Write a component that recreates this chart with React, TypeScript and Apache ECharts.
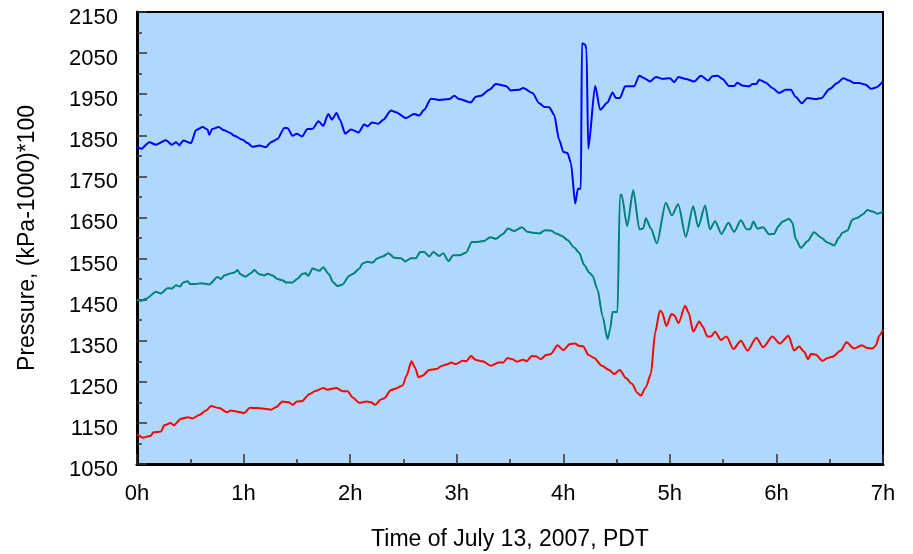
import React, { useEffect, useRef } from "react";
import * as echarts from "echarts";

// [hours, pressure] samples
const bluePressure: [number, number][] = [
  [0, 1823], [0.04, 1817], [0.115, 1833], [0.178, 1827], [0.272, 1838], [0.328, 1827], [0.366, 1833], [0.397, 1826],
  [0.434, 1837], [0.507, 1831], [0.553, 1862], [0.615, 1870], [0.662, 1864], [0.678, 1851], [0.704, 1865], [0.765, 1870],
  [0.819, 1862], [0.866, 1857], [0.913, 1849], [0.991, 1839], [1.038, 1831], [1.084, 1822], [1.147, 1825], [1.21, 1821],
  [1.257, 1833], [1.319, 1841], [1.382, 1868], [1.413, 1867], [1.46, 1849], [1.501, 1854], [1.548, 1847], [1.6, 1865],
  [1.647, 1866], [1.704, 1884], [1.748, 1873], [1.795, 1902], [1.829, 1888], [1.872, 1904], [1.904, 1888], [1.954, 1854],
  [2.008, 1864], [2.079, 1857], [2.132, 1876], [2.163, 1872], [2.205, 1881], [2.266, 1878], [2.311, 1888], [2.383, 1910],
  [2.43, 1906], [2.523, 1892], [2.601, 1902], [2.648, 1898], [2.695, 1912], [2.758, 1939], [2.836, 1936], [2.93, 1938],
  [2.977, 1946], [3.024, 1938], [3.133, 1930], [3.18, 1944], [3.227, 1946], [3.305, 1961], [3.368, 1975], [3.462, 1970],
  [3.508, 1959], [3.586, 1961], [3.624, 1965], [3.711, 1953], [3.774, 1928], [3.821, 1919], [3.868, 1918], [3.914, 1900],
  [3.961, 1839], [4.002, 1809], [4.039, 1807], [4.071, 1783], [4.112, 1684], [4.137, 1720], [4.165, 1720], [4.175, 2074],
  [4.205, 2071], [4.218, 2058], [4.234, 1817], [4.299, 1970], [4.346, 1912], [4.415, 1930], [4.462, 1954], [4.493, 1941],
  [4.531, 1941], [4.581, 1969], [4.665, 1969], [4.712, 1995], [4.759, 1989], [4.812, 1981], [4.869, 1992], [4.931, 1987],
  [5.0, 1989], [5.04, 1979], [5.081, 1992], [5.15, 1987], [5.228, 1981], [5.291, 1995], [5.362, 1983], [5.394, 1993],
  [5.447, 1995], [5.494, 1987], [5.556, 1970], [5.603, 1970], [5.634, 1978], [5.681, 1971], [5.744, 1969], [5.775, 1975],
  [5.812, 1975], [5.838, 1985], [5.901, 1978], [5.962, 1965], [6.025, 1953], [6.088, 1961], [6.135, 1961], [6.182, 1943],
  [6.238, 1928], [6.291, 1941], [6.37, 1938], [6.426, 1941], [6.494, 1962], [6.572, 1977], [6.626, 1989], [6.682, 1983],
  [6.729, 1977], [6.776, 1977], [6.839, 1973], [6.886, 1963], [6.933, 1966], [7.0, 1981],
];

const tealPressure: [number, number][] = [
  [0, 1449], [0.04, 1447], [0.09, 1453], [0.178, 1469], [0.225, 1465], [0.287, 1478], [0.328, 1477], [0.366, 1485],
  [0.403, 1482], [0.434, 1492], [0.475, 1495], [0.497, 1488], [0.553, 1488], [0.6, 1490], [0.678, 1487], [0.756, 1505],
  [0.788, 1500], [0.819, 1509], [0.866, 1513], [0.913, 1516], [0.944, 1522], [0.969, 1512], [1.016, 1506], [1.069, 1514],
  [1.1, 1522], [1.147, 1512], [1.194, 1509], [1.225, 1513], [1.272, 1509], [1.319, 1500], [1.366, 1497], [1.398, 1492],
  [1.46, 1492], [1.507, 1501], [1.553, 1513], [1.585, 1514], [1.607, 1508], [1.647, 1526], [1.71, 1520], [1.748, 1529],
  [1.797, 1513], [1.842, 1492], [1.882, 1483], [1.929, 1487], [1.992, 1508], [2.029, 1513], [2.085, 1525], [2.116, 1538],
  [2.163, 1542], [2.21, 1540], [2.257, 1551], [2.304, 1555], [2.36, 1563], [2.414, 1552], [2.477, 1551], [2.517, 1543],
  [2.571, 1551], [2.617, 1551], [2.658, 1566], [2.695, 1566], [2.742, 1555], [2.78, 1566], [2.836, 1556], [2.873, 1563],
  [2.923, 1544], [2.967, 1558], [3.024, 1558], [3.086, 1564], [3.143, 1590], [3.211, 1591], [3.258, 1593], [3.315, 1602],
  [3.368, 1598], [3.43, 1609], [3.483, 1623], [3.539, 1617], [3.612, 1626], [3.664, 1615], [3.711, 1613], [3.774, 1611],
  [3.83, 1619], [3.884, 1618], [3.931, 1611], [3.987, 1605], [4.039, 1595], [4.102, 1577], [4.149, 1564], [4.196, 1534],
  [4.243, 1516], [4.274, 1508], [4.321, 1475], [4.368, 1410], [4.415, 1354], [4.44, 1378], [4.462, 1420], [4.509, 1420],
  [4.531, 1703], [4.546, 1706], [4.6, 1629], [4.656, 1716], [4.715, 1621], [4.75, 1623], [4.775, 1648], [4.822, 1623],
  [4.878, 1587], [4.962, 1686], [5.019, 1655], [5.078, 1682], [5.15, 1603], [5.219, 1677], [5.266, 1627], [5.331, 1679],
  [5.375, 1621], [5.425, 1641], [5.484, 1610], [5.55, 1637], [5.603, 1615], [5.666, 1643], [5.722, 1621], [5.753, 1621],
  [5.784, 1640], [5.822, 1623], [5.875, 1626], [5.931, 1609], [5.978, 1610], [6.019, 1629], [6.057, 1640], [6.119, 1647],
  [6.15, 1637], [6.182, 1597], [6.229, 1576], [6.291, 1592], [6.354, 1614], [6.417, 1601], [6.479, 1589], [6.541, 1582],
  [6.588, 1601], [6.619, 1613], [6.666, 1618], [6.713, 1645], [6.76, 1649], [6.807, 1657], [6.854, 1668], [6.907, 1664],
  [6.948, 1659], [7.0, 1664],
];

const redPressure: [number, number][] = [
  [0, 1122], [0.059, 1114], [0.131, 1119], [0.153, 1127], [0.225, 1129], [0.256, 1144], [0.319, 1150], [0.344, 1144],
  [0.413, 1160], [0.475, 1164], [0.522, 1161], [0.584, 1169], [0.647, 1180], [0.694, 1191], [0.772, 1186], [0.844, 1176],
  [0.882, 1180], [0.929, 1178], [1.006, 1174], [1.06, 1187], [1.131, 1186], [1.21, 1184], [1.257, 1182], [1.304, 1188],
  [1.366, 1202], [1.422, 1200], [1.46, 1194], [1.501, 1202], [1.548, 1203], [1.616, 1220], [1.679, 1228], [1.748, 1235],
  [1.788, 1231], [1.872, 1235], [1.929, 1227], [1.976, 1227], [2.023, 1212], [2.085, 1199], [2.154, 1202], [2.195, 1200],
  [2.236, 1194], [2.289, 1207], [2.32, 1210], [2.383, 1230], [2.43, 1234], [2.492, 1241], [2.529, 1265], [2.576, 1300],
  [2.608, 1285], [2.642, 1261], [2.679, 1265], [2.742, 1279], [2.811, 1281], [2.852, 1288], [2.914, 1293], [2.946, 1297],
  [2.992, 1293], [3.055, 1301], [3.092, 1300], [3.133, 1313], [3.18, 1303], [3.242, 1300], [3.321, 1289], [3.392, 1297],
  [3.436, 1297], [3.477, 1308], [3.523, 1305], [3.565, 1299], [3.624, 1304], [3.655, 1300], [3.705, 1313], [3.743, 1312],
  [3.79, 1305], [3.837, 1315], [3.884, 1318], [3.946, 1339], [3.999, 1327], [4.062, 1342], [4.112, 1343], [4.143, 1338],
  [4.187, 1336], [4.237, 1315], [4.29, 1308], [4.362, 1289], [4.43, 1279], [4.478, 1269], [4.531, 1279], [4.587, 1259],
  [4.644, 1245], [4.696, 1223], [4.728, 1216], [4.775, 1237], [4.822, 1269], [4.862, 1370], [4.906, 1423], [4.925, 1420],
  [4.968, 1386], [5.015, 1415], [5.041, 1412], [5.081, 1393], [5.144, 1435], [5.175, 1419], [5.219, 1372], [5.276, 1397],
  [5.306, 1385], [5.353, 1360], [5.385, 1360], [5.425, 1372], [5.478, 1352], [5.531, 1360], [5.597, 1330], [5.666, 1350],
  [5.728, 1326], [5.812, 1357], [5.875, 1334], [5.962, 1360], [6.032, 1343], [6.113, 1362], [6.166, 1326], [6.213, 1336],
  [6.26, 1323], [6.298, 1305], [6.323, 1318], [6.37, 1316], [6.432, 1301], [6.479, 1308], [6.525, 1311], [6.604, 1326],
  [6.657, 1346], [6.729, 1331], [6.801, 1339], [6.854, 1332], [6.9, 1331], [6.933, 1338], [6.964, 1362], [7.0, 1377],
];

const yMin = 1050;
const yMax = 2150;
const yStep = 100;
const xMin = 0;
const xMax = 7;
const xTitle = "Time of July 13, 2007, PDT";
const yTitle = "Pressure, (kPa-1000)*100";

const FONT = "Liberation Sans, Arial, sans-serif";

export default function App() {
  const ref = useRef<HTMLDivElement>(null);

  useEffect(() => {
    if (!ref.current) return;
    const chart = echarts.init(ref.current, null, { renderer: "svg" });
    const mkLine = (name: string, data: [number, number][], color: string) => ({
      name,
      type: "line",
      data,
      showSymbol: false,
      smooth: 0.25,
      smoothMonotone: "x",
      lineStyle: { color, width: 2 },
      z: 3,
    });
    chart.setOption({
      animation: false,
      grid: {
        left: 137,
        right: 30,
        top: 12,
        bottom: 88,
        show: true,
        backgroundColor: "#b0d8fc",
        borderColor: "#000",
        borderWidth: 2,
      },
      xAxis: {
        type: "value",
        min: xMin,
        max: xMax,
        interval: 1,
        name: xTitle,
        nameLocation: "middle",
        nameGap: 62,
        nameTextStyle: { fontFamily: FONT, fontSize: 23, color: "#000" },
        axisLine: { show: true, lineStyle: { color: "#000", width: 3 } },
        axisTick: { show: true, inside: true, length: 10, lineStyle: { color: "#333", width: 1.5 } },
        minorTick: { show: true, splitNumber: 2, length: 5, lineStyle: { color: "#333", width: 1.5 } },
        splitLine: { show: false },
        axisLabel: {
          fontFamily: FONT,
          fontSize: 22,
          color: "#000",
          margin: 17,
          formatter: (v: number) => `${v}h`,
        },
      },
      yAxis: {
        type: "value",
        min: yMin,
        max: yMax,
        interval: yStep,
        name: yTitle,
        nameLocation: "middle",
        nameGap: 100,
        nameTextStyle: { fontFamily: FONT, fontSize: 23, color: "#000" },
        axisLine: { show: true, lineStyle: { color: "#000", width: 3 } },
        axisTick: { show: true, inside: true, length: 10, lineStyle: { color: "#333", width: 1.5 } },
        minorTick: { show: true, splitNumber: 2, length: 5, lineStyle: { color: "#333", width: 1.5 } },
        splitLine: { show: false },
        axisLabel: {
          fontFamily: FONT,
          fontSize: 22,
          color: "#000",
          margin: 19,
          verticalAlign: "top",
          lineHeight: 9,
          formatter: (v: number) => String(v),
        },
      },
      series: [
        mkLine("blue", bluePressure, "#0000ff"),
        mkLine("teal", tealPressure, "#008080"),
        mkLine("red", redPressure, "#ff0000"),
      ],
    });
    return () => chart.dispose();
  }, []);

  return (
    <div
      ref={ref}
      style={{ position: "fixed", left: 0, top: 0, width: 913, height: 554 }}
    />
  );
}
